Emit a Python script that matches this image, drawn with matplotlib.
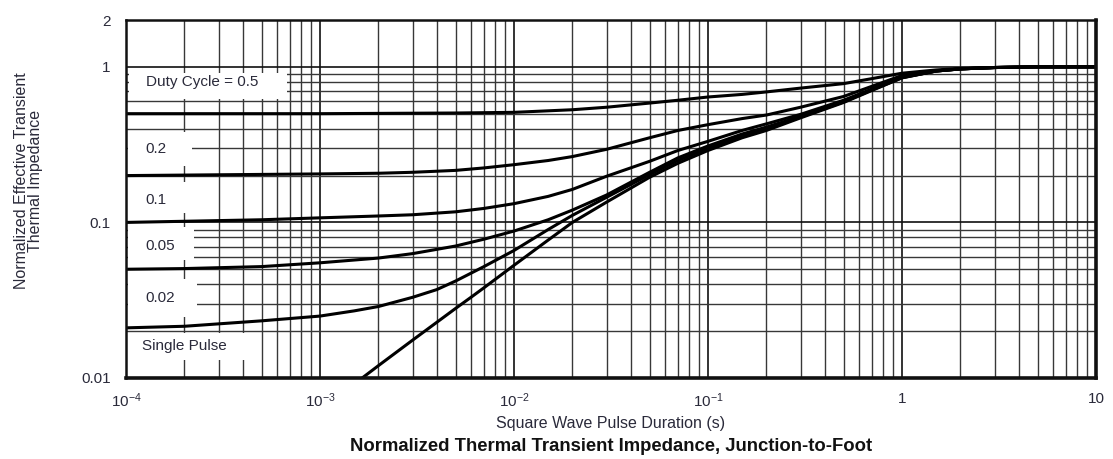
import matplotlib
matplotlib.use("Agg")
import matplotlib.pyplot as plt
from matplotlib.patches import Rectangle
from matplotlib.ticker import FixedLocator, NullFormatter

plt.rcParams['font.family'] = ['Liberation Sans', 'DejaVu Sans']
plt.rcParams['mathtext.fontset'] = 'custom'
plt.rcParams['mathtext.rm'] = 'Liberation Sans'
plt.rcParams['mathtext.it'] = 'Liberation Sans'
plt.rcParams['mathtext.bf'] = 'Liberation Sans:bold'

# ---- data ----
t_d50 = [1e-4, 1e-3, 5e-3, 1e-2, 2e-2, 3e-2, 5e-2, 7e-2, 0.1, 0.15, 0.2,
         0.3, 0.5, 0.7, 1, 1.5, 2, 3, 5, 10]
z_d50 = [0.50, 0.50, 0.505, 0.51, 0.53, 0.55, 0.585, 0.61, 0.64, 0.665, 0.69,
         0.73, 0.78, 0.84, 0.91, 0.955, 0.975, 0.99, 1.0, 1.0]

t_d20 = [1e-4, 1e-3, 2e-3, 3e-3, 5e-3, 7e-3, 1e-2, 1.5e-2, 2e-2, 3e-2, 5e-2,
         7e-2, 0.1, 0.15, 0.2, 0.3, 0.5, 0.7, 1, 1.5, 2, 3, 5, 10]
z_d20 = [0.20, 0.205, 0.207, 0.21, 0.216, 0.224, 0.235, 0.25, 0.265, 0.295, 0.35,
         0.39, 0.425, 0.465, 0.49, 0.55, 0.645, 0.75, 0.88, 0.945, 0.97, 0.99, 1.0, 1.0]

t_d10 = [1e-4, 5e-4, 1e-3, 2e-3, 3e-3, 5e-3, 7e-3, 1e-2, 1.5e-2, 2e-2, 3e-2, 5e-2,
         7e-2, 0.1, 0.15, 0.2, 0.3, 0.5, 0.7, 1, 1.5, 2, 3, 5, 10]
z_d10 = [0.10, 0.104, 0.107, 0.11, 0.112, 0.117, 0.123, 0.132, 0.147, 0.163, 0.198, 0.247,
         0.29, 0.332, 0.39, 0.43, 0.495, 0.61, 0.72, 0.86, 0.94, 0.97, 0.99, 1.0, 1.0]

t_d05 = [1e-4, 2e-4, 5e-4, 1e-3, 2e-3, 3e-3, 5e-3, 7e-3, 1e-2, 1.5e-2, 2e-2, 3e-2, 5e-2,
         7e-2, 0.1, 0.15, 0.2, 0.3, 0.5, 0.7, 1, 1.5, 2, 3, 5, 10]
z_d05 = [0.05, 0.0505, 0.052, 0.055, 0.059, 0.063, 0.0705, 0.078, 0.088, 0.104, 0.12, 0.15, 0.21,
         0.26, 0.31, 0.37, 0.41, 0.48, 0.60, 0.715, 0.855, 0.94, 0.97, 0.99, 1.0, 1.0]

t_d02 = [1e-4, 2e-4, 5e-4, 1e-3, 1.5e-3, 2e-3, 3e-3, 4e-3, 5e-3, 7e-3, 1e-2, 1.5e-2,
         2e-2, 3e-2, 5e-2, 7e-2, 0.1, 0.15, 0.2, 0.3, 0.5, 0.7, 1, 1.5, 2, 3, 5, 10]
z_d02 = [0.021, 0.0215, 0.0233, 0.025, 0.027, 0.0288, 0.033, 0.037, 0.042, 0.052, 0.066, 0.09,
         0.111, 0.145, 0.203, 0.25, 0.30, 0.36, 0.40, 0.475, 0.595, 0.71, 0.85, 0.94, 0.97, 0.99,
         1.0, 1.0]

t_single = [1.65e-3, 2e-3, 3e-3, 4e-3, 5e-3, 6e-3, 7e-3, 1e-2, 1.5e-2, 2e-2, 3e-2, 5e-2,
            7e-2, 0.1, 0.15, 0.2, 0.3, 0.5, 0.7, 1, 1.5, 2, 3, 5, 10]
z_single = [0.01, 0.012, 0.0175, 0.0228, 0.028, 0.033, 0.038, 0.053, 0.077, 0.10, 0.135, 0.195,
            0.24, 0.29, 0.35, 0.39, 0.47, 0.59, 0.705, 0.85, 0.94, 0.97, 0.99, 1.0, 1.0]

curve_labels = ["Duty Cycle = 0.5", "0.2", "0.1", "0.05", "0.02", "Single Pulse"]

x_ticks = [1e-4, 1e-3, 1e-2, 1e-1, 1, 10]
x_ticklabels = ['$10^{-4}$', '$10^{-3}$', '$10^{-2}$', '$10^{-1}$', '1', '10']
y_ticks = [0.01, 0.1, 1, 2]
y_ticklabels = ['0.01', '0.1', '1', '2']
y_minor = [0.02, 0.03, 0.04, 0.05, 0.06, 0.07, 0.08, 0.09,
           0.2, 0.3, 0.4, 0.5, 0.6, 0.7, 0.8, 0.9]

fig = plt.figure(figsize=(11.13, 4.59), dpi=100)
ax = fig.add_axes([0.1132, 0.1765, 0.8715, 0.7799])
ax.set_xscale('log')
ax.set_yscale('log')
ax.set_xlim(1e-4, 10)
ax.set_ylim(0.01, 2)

ax.xaxis.set_major_locator(FixedLocator(x_ticks))
ax.set_xticklabels(x_ticklabels)
ax.xaxis.set_minor_locator(FixedLocator(
    [m * 10.0 ** e for e in range(-4, 1) for m in range(2, 10)]))
ax.xaxis.set_minor_formatter(NullFormatter())
ax.yaxis.set_major_locator(FixedLocator(y_ticks))
ax.set_yticklabels(y_ticklabels)
ax.yaxis.set_minor_locator(FixedLocator(y_minor))
ax.yaxis.set_minor_formatter(NullFormatter())

txt_col = '#2a2a3a'
ax.tick_params(which='both', length=0)
ax.tick_params(axis='x', pad=10, labelsize=11, labelcolor=txt_col)
ax.tick_params(axis='y', pad=11, labelsize=11, labelcolor=txt_col)

ax.grid(True, which='major', color='#111111', linewidth=1.2, zorder=1)
ax.grid(True, which='minor', color='#383838', linewidth=1.0, zorder=1)
ax.set_axisbelow(True)

for side, lw in (('top', 1.8), ('left', 1.8), ('bottom', 2.6), ('right', 2.6)):
    ax.spines[side].set_linewidth(lw)
    ax.spines[side].set_color('#111111')
    ax.spines[side].set_zorder(6)

# white label boxes (axes fraction)
boxes = [(0.003, 0.779, 0.163, 0.073),
         (0.002, 0.592, 0.066, 0.095),
         (0.002, 0.461, 0.066, 0.086),
         (0.002, 0.330, 0.068, 0.092),
         (0.002, 0.170, 0.071, 0.107),
         (0.002, 0.050, 0.130, 0.076)]
text_pos = [(0.021, 0.827), (0.0196, 0.640), (0.0196, 0.497),
            (0.0196, 0.369), (0.0196, 0.223), (0.0165, 0.089)]
for (bx, by, bw, bh), (tx, ty), lab in zip(boxes, text_pos, curve_labels):
    ax.add_patch(Rectangle((bx, by), bw, bh, transform=ax.transAxes,
                           facecolor='white', edgecolor='none', zorder=2))
    ax.text(tx, ty, lab, transform=ax.transAxes, fontsize=11,
            color=txt_col, va='center', ha='left', zorder=3)

for tt, tz in ((t_d50, z_d50), (t_d20, z_d20), (t_d10, z_d10),
               (t_d05, z_d05), (t_d02, z_d02), (t_single, z_single)):
    ax.plot(tt, tz, color='black', linewidth=2.2, zorder=4,
            solid_joinstyle='round')

ax.set_xlabel('Square Wave Pulse Duration (s)', fontsize=11.5,
              color=txt_col, labelpad=4)
ax.set_ylabel('Normalized Effective Transient\nThermal Impedance',
              fontsize=11.5, color=txt_col, linespacing=0.85)
ax.yaxis.set_label_coords(-0.086, 0.55)

fig.text(0.549, 0.028, 'Normalized Thermal Transient Impedance, Junction-to-Foot',
         ha='center', va='center', fontsize=13.3, fontweight='bold', color='#111111')

fig.savefig('out.png', dpi=100)
